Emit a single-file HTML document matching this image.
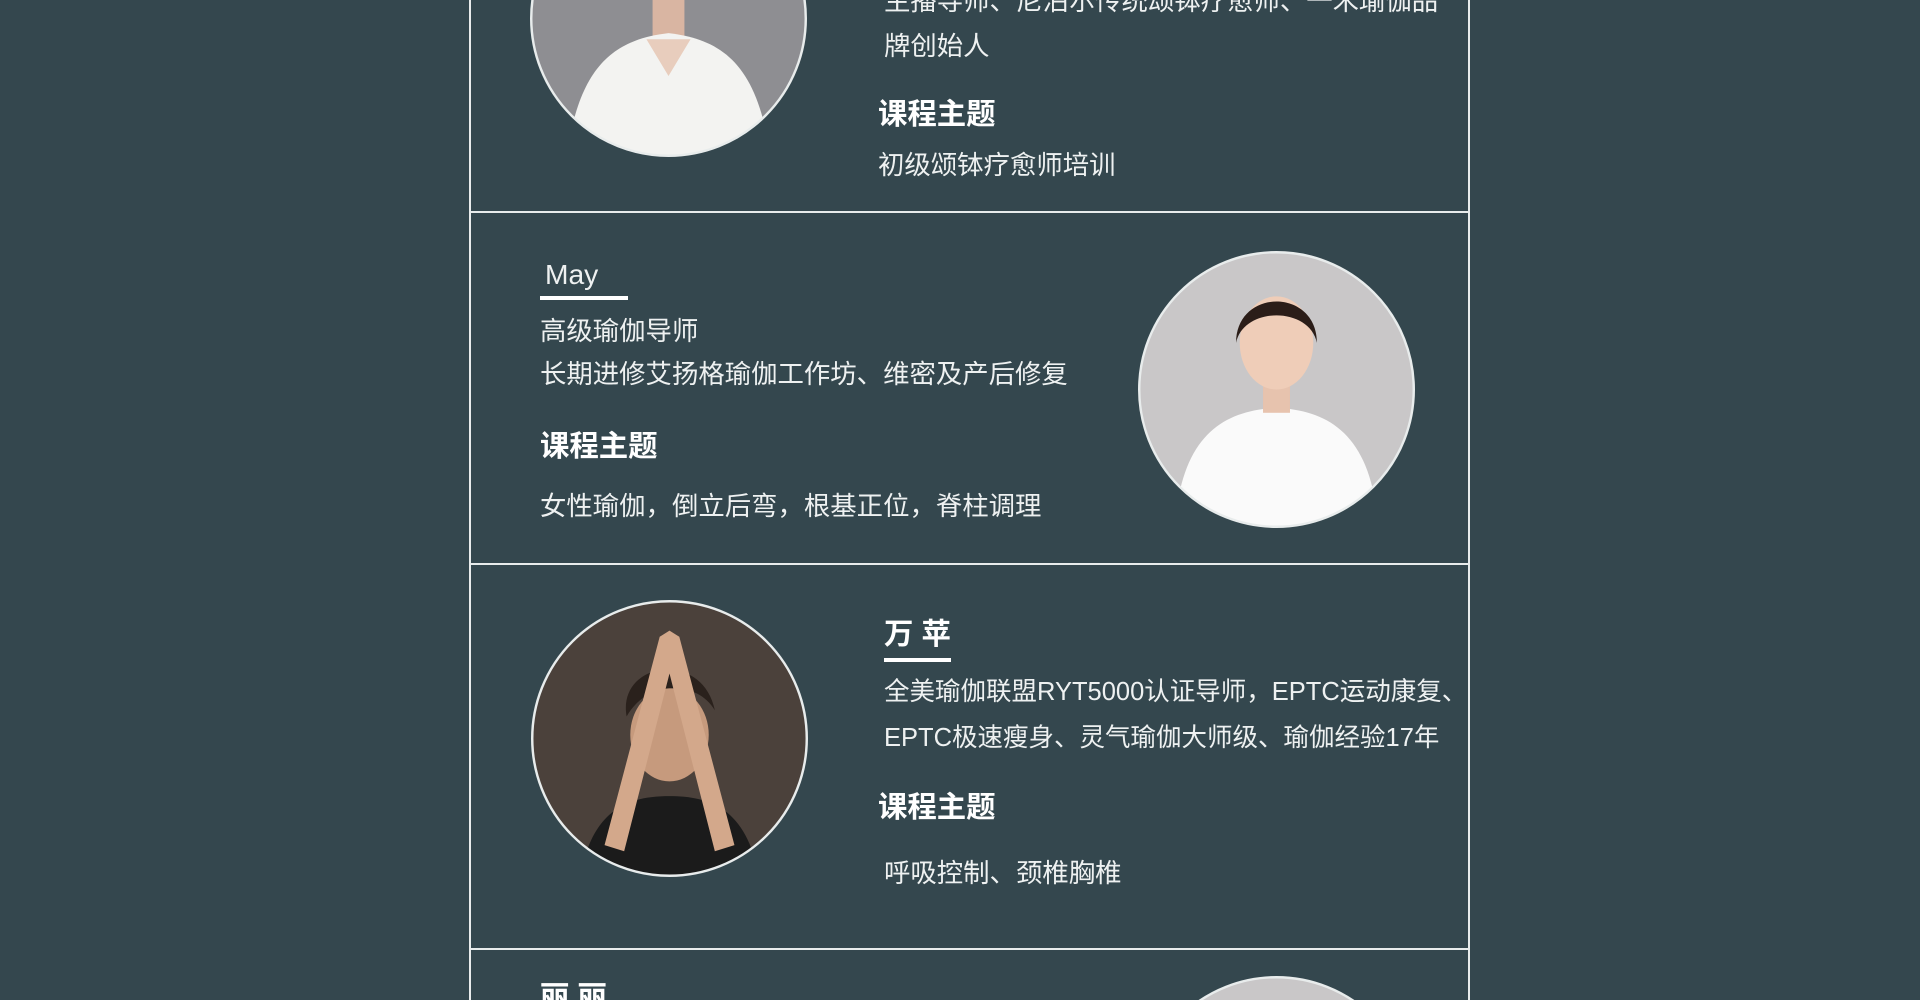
<!DOCTYPE html>
<html><head><meta charset="utf-8">
<style>
html,body{margin:0;padding:0;width:1920px;height:1000px;overflow:hidden;background:#34474e;}
#wrap{position:absolute;left:0;top:0;width:1920px;height:1000px;overflow:hidden;background:#34474e;}
.t{position:absolute;color:#eef1f1;font-family:"Liberation Sans","Noto Sans CJK SC",sans-serif;font-size:26.4px;white-space:nowrap;line-height:1;}
.b{font-weight:bold;font-size:29.4px;color:#fff;}
.vl,.hl{position:absolute;background:#e8ecec;}
.vl{width:2px;top:0;height:1000px;}
.hl{height:2px;left:470px;width:1000px;}
.ul{position:absolute;height:4px;background:#fff;}
.ph{position:absolute;}
</style></head><body>
<div id="wrap">
<div class="vl" style="left:469px"></div>
<div class="vl" style="left:1468px"></div>
<div class="hl" style="top:211px"></div>
<div class="hl" style="top:563px"></div>
<div class="hl" style="top:948px"></div>

<svg class="ph" style="left:530px;top:0" width="277" height="157" viewBox="0 0 226 128">
<defs><clipPath id="c1"><circle cx="113" cy="15" r="112"/></clipPath></defs>
<g clip-path="url(#c1)"><g transform="translate(0,-98)"><rect width="226" height="226" fill="#8e8e92"/><rect x="100" y="70" width="26" height="60" fill="#d9b5a2"/><ellipse cx="113" cy="60" rx="28" ry="36" fill="#e3c0ac"/><path d="M30 226 C40 150 70 130 113 125 C156 130 186 150 196 226Z" fill="#f3f3f1"/><path d="M95 130 L113 160 L131 130" fill="#e8cdbd"/></g></g>
<circle cx="113" cy="15" r="112" fill="none" stroke="#e8ecec" stroke-width="2"/></svg>

<svg class="ph" style="left:1138px;top:251px" width="277" height="277" viewBox="0 0 226 226">
<defs><clipPath id="c2"><circle cx="113" cy="113" r="112"/></clipPath></defs>
<g clip-path="url(#c2)"><rect width="226" height="226" fill="#c9c7c8"/><path d="M30 226 C35 150 70 130 113 128 C156 130 191 150 196 226Z" fill="#fafafa"/><rect x="102" y="100" width="22" height="32" fill="#e7c3ae"/><ellipse cx="113" cy="75" rx="30" ry="38" fill="#efcdb8"/><path d="M80 75 C80 30 146 30 146 75 C140 45 86 45 80 75Z" fill="#2b1d18"/></g>
<circle cx="113" cy="113" r="112" fill="none" stroke="#e8ecec" stroke-width="2"/></svg>

<svg class="ph" style="left:531px;top:600px" width="277" height="277" viewBox="0 0 226 226">
<defs><clipPath id="c3"><circle cx="113" cy="113" r="112"/></clipPath></defs>
<g clip-path="url(#c3)"><rect width="226" height="226" fill="#4b413b"/><path d="M40 226 C50 170 80 160 113 160 C146 160 176 170 186 226Z" fill="#1b1b1b"/><ellipse cx="113" cy="110" rx="32" ry="38" fill="#c69a7d"/><path d="M78 95 C70 50 140 40 150 90 C135 65 95 65 78 95Z" fill="#2a211c"/><path d="M60 200 L105 30 L113 25 L121 30 L166 200 L150 205 L113 60 L76 205Z" fill="#d3a88b"/></g>
<circle cx="113" cy="113" r="112" fill="none" stroke="#e8ecec" stroke-width="2"/></svg>

<svg class="ph" style="left:1138px;top:976px" width="277" height="24" viewBox="0 0 226 19.6"><circle cx="113" cy="113" r="112" fill="#c9c7c8" stroke="#e8ecec" stroke-width="2"/></svg>

<div class="t" style="left:884px;top:-12px">主播导师、尼泊尔传统颂钵疗愈师、一禾瑜伽品</div>
<div class="t" style="left:884px;top:33px">牌创始人</div>
<div class="t b" style="left:878px;top:100px">课程主题</div>
<div class="t" style="left:878px;top:152px">初级颂钵疗愈师培训</div>

<div class="t" style="left:545px;top:260px;font-size:28.2px">May</div>
<div class="ul" style="left:540px;top:296px;width:88px"></div>
<div class="t" style="left:540px;top:318px">高级瑜伽导师</div>
<div class="t" style="left:540px;top:361px">长期进修艾扬格瑜伽工作坊、维密及产后修复</div>
<div class="t b" style="left:540px;top:432px">课程主题</div>
<div class="t" style="left:540px;top:493px">女性瑜伽，倒立后弯，根基正位，脊柱调理</div>

<div class="t b" style="left:884px;top:620px">万 苹</div>
<div class="ul" style="left:884px;top:658px;width:67px"></div>
<div class="t" style="left:884px;top:680px;font-size:25.5px">全美瑜伽联盟RYT5000认证导师，EPTC运动康复、</div>
<div class="t" style="left:884px;top:726px;font-size:25.5px">EPTC极速瘦身、灵气瑜伽大师级、瑜伽经验17年</div>
<div class="t b" style="left:878px;top:793px">课程主题</div>
<div class="t" style="left:884px;top:860px">呼吸控制、颈椎胸椎</div>

<div class="t b" style="left:540px;top:983px;height:17px;overflow:hidden">丽 丽</div>
</div>
</body></html>
